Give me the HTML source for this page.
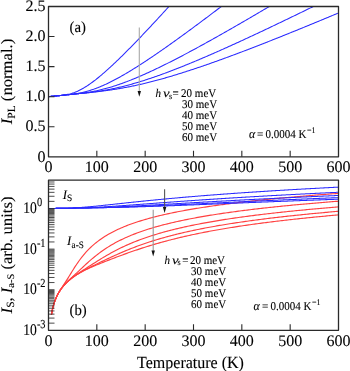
<!DOCTYPE html><html><head><meta charset="utf-8"><style>html,body{margin:0;padding:0;background:#fff;width:350px;height:371px;overflow:hidden}svg{display:block}svg{will-change:transform;filter:blur(0.3px)}text{text-rendering:geometricPrecision}</style></head><body><svg width="350" height="371" viewBox="0 0 350 371">
<rect width="350" height="371" fill="#fff"/>
<path d="M48.50,96.68 L49.47,96.58 L50.43,96.49 L51.40,96.39 L52.37,96.30 L53.33,96.20 L54.30,96.10 L55.27,96.01 L56.23,95.91 L57.20,95.81 L58.17,95.72 L59.13,95.62 L60.10,95.52 L61.07,95.41 L62.03,95.30 L63.00,95.18 L63.97,95.06 L64.93,94.91 L65.90,94.76 L66.87,94.58 L67.83,94.39 L68.80,94.18 L69.77,93.95 L70.73,93.69 L71.70,93.41 L72.67,93.10 L73.63,92.78 L74.60,92.43 L75.57,92.05 L76.53,91.65 L77.50,91.23 L78.47,90.78 L79.43,90.31 L80.40,89.82 L81.37,89.31 L82.33,88.78 L83.30,88.23 L84.27,87.66 L85.23,87.07 L86.20,86.46 L87.17,85.84 L88.13,85.20 L89.10,84.54 L90.07,83.87 L91.03,83.18 L92.00,82.48 L92.97,81.77 L93.93,81.04 L94.90,80.30 L95.87,79.54 L96.83,78.78 L97.80,78.00 L98.77,77.22 L99.73,76.42 L100.70,75.61 L101.67,74.80 L102.63,73.97 L103.60,73.14 L104.57,72.30 L105.53,71.45 L106.50,70.59 L107.47,69.72 L108.43,68.85 L109.40,67.97 L110.37,67.09 L111.33,66.19 L112.30,65.29 L113.27,64.39 L114.23,63.48 L115.20,62.56 L116.17,61.64 L117.13,60.71 L118.10,59.78 L119.07,58.84 L120.03,57.90 L121.00,56.96 L121.97,56.01 L122.93,55.05 L123.90,54.09 L124.87,53.13 L125.83,52.16 L126.80,51.19 L127.77,50.22 L128.73,49.24 L129.70,48.26 L130.67,47.28 L131.63,46.29 L132.60,45.30 L133.57,44.31 L134.53,43.31 L135.50,42.31 L136.47,41.31 L137.43,40.31 L138.40,39.30 L139.37,38.29 L140.33,37.28 L141.30,36.27 L142.27,35.25 L143.23,34.23 L144.20,33.21 L145.17,32.19 L146.13,31.17 L147.10,30.14 L148.07,29.11 L149.03,28.08 L150.00,27.05 L150.97,26.02 L151.93,24.98 L152.90,23.94 L153.87,22.90 L154.83,21.86 L155.80,20.82 L156.77,19.78 L157.73,18.73 L158.70,17.69 L159.67,16.64 L160.63,15.59 L161.60,14.54 L162.57,13.49 L163.53,12.43 L164.50,11.38 L165.47,10.32 L166.43,9.26 L167.40,8.21 L168.37,7.15 L168.96,6.50" fill="none" stroke="#2a2aff" stroke-width="1.05"/>
<path d="M48.50,96.68 L49.47,96.58 L50.43,96.49 L51.40,96.39 L52.37,96.30 L53.33,96.20 L54.30,96.10 L55.27,96.01 L56.23,95.91 L57.20,95.81 L58.17,95.72 L59.13,95.62 L60.10,95.53 L61.07,95.43 L62.03,95.33 L63.00,95.24 L63.97,95.14 L64.93,95.04 L65.90,94.94 L66.87,94.84 L67.83,94.74 L68.80,94.63 L69.77,94.52 L70.73,94.41 L71.70,94.29 L72.67,94.16 L73.63,94.03 L74.60,93.89 L75.57,93.75 L76.53,93.59 L77.50,93.43 L78.47,93.26 L79.43,93.08 L80.40,92.89 L81.37,92.69 L82.33,92.48 L83.30,92.25 L84.27,92.02 L85.23,91.78 L86.20,91.53 L87.17,91.26 L88.13,90.99 L89.10,90.70 L90.07,90.41 L91.03,90.10 L92.00,89.79 L92.97,89.46 L93.93,89.12 L94.90,88.78 L95.87,88.42 L96.83,88.05 L97.80,87.68 L98.77,87.29 L99.73,86.90 L100.70,86.50 L101.67,86.09 L102.63,85.67 L103.60,85.24 L104.57,84.81 L105.53,84.37 L106.50,83.92 L107.47,83.46 L108.43,82.99 L109.40,82.52 L110.37,82.04 L111.33,81.56 L112.30,81.07 L113.27,80.57 L114.23,80.06 L115.20,79.55 L116.17,79.04 L117.13,78.52 L118.10,77.99 L119.07,77.46 L120.03,76.92 L121.00,76.37 L121.97,75.83 L122.93,75.27 L123.90,74.72 L124.87,74.15 L125.83,73.59 L126.80,73.02 L127.77,72.44 L128.73,71.86 L129.70,71.28 L130.67,70.69 L131.63,70.10 L132.60,69.51 L133.57,68.91 L134.53,68.31 L135.50,67.70 L136.47,67.10 L137.43,66.48 L138.40,65.87 L139.37,65.25 L140.33,64.63 L141.30,64.01 L142.27,63.38 L143.23,62.75 L144.20,62.12 L145.17,61.48 L146.13,60.85 L147.10,60.21 L148.07,59.56 L149.03,58.92 L150.00,58.27 L150.97,57.62 L151.93,56.97 L152.90,56.32 L153.87,55.66 L154.83,55.00 L155.80,54.34 L156.77,53.68 L157.73,53.02 L158.70,52.35 L159.67,51.68 L160.63,51.01 L161.60,50.34 L162.57,49.67 L163.53,48.99 L164.50,48.32 L165.47,47.64 L166.43,46.96 L167.40,46.28 L168.37,45.59 L169.33,44.91 L170.30,44.22 L171.27,43.53 L172.23,42.85 L173.20,42.16 L174.17,41.46 L175.13,40.77 L176.10,40.08 L177.07,39.38 L178.03,38.68 L179.00,37.99 L179.97,37.29 L180.93,36.59 L181.90,35.88 L182.87,35.18 L183.83,34.48 L184.80,33.77 L185.77,33.07 L186.73,32.36 L187.70,31.65 L188.67,30.94 L189.63,30.23 L190.60,29.52 L191.57,28.81 L192.53,28.10 L193.50,27.38 L194.47,26.67 L195.43,25.95 L196.40,25.23 L197.37,24.52 L198.33,23.80 L199.30,23.08 L200.27,22.36 L201.23,21.64 L202.20,20.92 L203.17,20.19 L204.13,19.47 L205.10,18.75 L206.07,18.02 L207.03,17.30 L208.00,16.57 L208.97,15.85 L209.93,15.12 L210.90,14.39 L211.87,13.66 L212.83,12.93 L213.80,12.20 L214.77,11.47 L215.73,10.74 L216.70,10.01 L217.67,9.28 L218.63,8.54 L219.60,7.81 L220.57,7.08 L221.32,6.50" fill="none" stroke="#2a2aff" stroke-width="1.05"/>
<path d="M48.50,96.68 L49.47,96.58 L50.43,96.49 L51.40,96.39 L52.37,96.30 L53.33,96.20 L54.30,96.10 L55.27,96.01 L56.23,95.91 L57.20,95.81 L58.17,95.72 L59.13,95.62 L60.10,95.53 L61.07,95.43 L62.03,95.33 L63.00,95.24 L63.97,95.14 L64.93,95.04 L65.90,94.95 L66.87,94.85 L67.83,94.76 L68.80,94.66 L69.77,94.56 L70.73,94.46 L71.70,94.36 L72.67,94.26 L73.63,94.16 L74.60,94.06 L75.57,93.96 L76.53,93.85 L77.50,93.74 L78.47,93.63 L79.43,93.52 L80.40,93.40 L81.37,93.28 L82.33,93.15 L83.30,93.03 L84.27,92.89 L85.23,92.76 L86.20,92.61 L87.17,92.47 L88.13,92.32 L89.10,92.16 L90.07,92.00 L91.03,91.83 L92.00,91.66 L92.97,91.48 L93.93,91.29 L94.90,91.10 L95.87,90.90 L96.83,90.70 L97.80,90.49 L98.77,90.28 L99.73,90.06 L100.70,89.83 L101.67,89.60 L102.63,89.36 L103.60,89.11 L104.57,88.86 L105.53,88.60 L106.50,88.34 L107.47,88.07 L108.43,87.80 L109.40,87.52 L110.37,87.24 L111.33,86.95 L112.30,86.65 L113.27,86.35 L114.23,86.04 L115.20,85.73 L116.17,85.42 L117.13,85.09 L118.10,84.77 L119.07,84.44 L120.03,84.10 L121.00,83.76 L121.97,83.42 L122.93,83.07 L123.90,82.71 L124.87,82.35 L125.83,81.99 L126.80,81.63 L127.77,81.25 L128.73,80.88 L129.70,80.50 L130.67,80.12 L131.63,79.73 L132.60,79.34 L133.57,78.95 L134.53,78.55 L135.50,78.15 L136.47,77.75 L137.43,77.34 L138.40,76.93 L139.37,76.52 L140.33,76.10 L141.30,75.68 L142.27,75.26 L143.23,74.83 L144.20,74.40 L145.17,73.97 L146.13,73.54 L147.10,73.10 L148.07,72.66 L149.03,72.22 L150.00,71.77 L150.97,71.32 L151.93,70.87 L152.90,70.42 L153.87,69.97 L154.83,69.51 L155.80,69.05 L156.77,68.59 L157.73,68.12 L158.70,67.66 L159.67,67.19 L160.63,66.72 L161.60,66.25 L162.57,65.77 L163.53,65.30 L164.50,64.82 L165.47,64.34 L166.43,63.86 L167.40,63.37 L168.37,62.89 L169.33,62.40 L170.30,61.91 L171.27,61.42 L172.23,60.93 L173.20,60.44 L174.17,59.94 L175.13,59.44 L176.10,58.94 L177.07,58.44 L178.03,57.94 L179.00,57.44 L179.97,56.94 L180.93,56.43 L181.90,55.92 L182.87,55.42 L183.83,54.91 L184.80,54.40 L185.77,53.88 L186.73,53.37 L187.70,52.85 L188.67,52.34 L189.63,51.82 L190.60,51.30 L191.57,50.78 L192.53,50.26 L193.50,49.74 L194.47,49.22 L195.43,48.70 L196.40,48.17 L197.37,47.64 L198.33,47.12 L199.30,46.59 L200.27,46.06 L201.23,45.53 L202.20,45.00 L203.17,44.47 L204.13,43.94 L205.10,43.40 L206.07,42.87 L207.03,42.33 L208.00,41.80 L208.97,41.26 L209.93,40.72 L210.90,40.18 L211.87,39.64 L212.83,39.10 L213.80,38.56 L214.77,38.02 L215.73,37.48 L216.70,36.93 L217.67,36.39 L218.63,35.84 L219.60,35.30 L220.57,34.75 L221.53,34.20 L222.50,33.66 L223.47,33.11 L224.43,32.56 L225.40,32.01 L226.37,31.46 L227.33,30.91 L228.30,30.36 L229.27,29.80 L230.23,29.25 L231.20,28.70 L232.17,28.14 L233.13,27.59 L234.10,27.03 L235.07,26.48 L236.03,25.92 L237.00,25.36 L237.97,24.81 L238.93,24.25 L239.90,23.69 L240.87,23.13 L241.83,22.57 L242.80,22.01 L243.77,21.45 L244.73,20.89 L245.70,20.33 L246.67,19.77 L247.63,19.20 L248.60,18.64 L249.57,18.08 L250.53,17.51 L251.50,16.95 L252.47,16.38 L253.43,15.82 L254.40,15.25 L255.37,14.69 L256.33,14.12 L257.30,13.55 L258.27,12.99 L259.23,12.42 L260.20,11.85 L261.17,11.28 L262.13,10.71 L263.10,10.14 L264.07,9.57 L265.03,9.00 L266.00,8.43 L266.97,7.86 L267.93,7.29 L268.90,6.72 L269.27,6.50" fill="none" stroke="#2a2aff" stroke-width="1.05"/>
<path d="M48.50,96.68 L49.47,96.58 L50.43,96.49 L51.40,96.39 L52.37,96.30 L53.33,96.20 L54.30,96.10 L55.27,96.01 L56.23,95.91 L57.20,95.81 L58.17,95.72 L59.13,95.62 L60.10,95.53 L61.07,95.43 L62.03,95.33 L63.00,95.24 L63.97,95.14 L64.93,95.04 L65.90,94.95 L66.87,94.85 L67.83,94.76 L68.80,94.66 L69.77,94.56 L70.73,94.47 L71.70,94.37 L72.67,94.27 L73.63,94.18 L74.60,94.08 L75.57,93.98 L76.53,93.88 L77.50,93.79 L78.47,93.69 L79.43,93.59 L80.40,93.49 L81.37,93.39 L82.33,93.28 L83.30,93.18 L84.27,93.07 L85.23,92.97 L86.20,92.86 L87.17,92.75 L88.13,92.63 L89.10,92.52 L90.07,92.40 L91.03,92.28 L92.00,92.16 L92.97,92.04 L93.93,91.91 L94.90,91.78 L95.87,91.64 L96.83,91.51 L97.80,91.37 L98.77,91.22 L99.73,91.08 L100.70,90.92 L101.67,90.77 L102.63,90.61 L103.60,90.45 L104.57,90.29 L105.53,90.12 L106.50,89.95 L107.47,89.77 L108.43,89.59 L109.40,89.41 L110.37,89.22 L111.33,89.03 L112.30,88.83 L113.27,88.63 L114.23,88.43 L115.20,88.22 L116.17,88.01 L117.13,87.80 L118.10,87.58 L119.07,87.35 L120.03,87.13 L121.00,86.90 L121.97,86.67 L122.93,86.43 L123.90,86.19 L124.87,85.94 L125.83,85.70 L126.80,85.45 L127.77,85.19 L128.73,84.93 L129.70,84.67 L130.67,84.41 L131.63,84.14 L132.60,83.87 L133.57,83.59 L134.53,83.32 L135.50,83.04 L136.47,82.75 L137.43,82.47 L138.40,82.18 L139.37,81.88 L140.33,81.59 L141.30,81.29 L142.27,80.99 L143.23,80.68 L144.20,80.38 L145.17,80.07 L146.13,79.76 L147.10,79.44 L148.07,79.12 L149.03,78.80 L150.00,78.48 L150.97,78.16 L151.93,77.83 L152.90,77.50 L153.87,77.17 L154.83,76.83 L155.80,76.50 L156.77,76.16 L157.73,75.82 L158.70,75.47 L159.67,75.13 L160.63,74.78 L161.60,74.43 L162.57,74.08 L163.53,73.73 L164.50,73.37 L165.47,73.01 L166.43,72.65 L167.40,72.29 L168.37,71.93 L169.33,71.56 L170.30,71.20 L171.27,70.83 L172.23,70.46 L173.20,70.09 L174.17,69.71 L175.13,69.34 L176.10,68.96 L177.07,68.58 L178.03,68.20 L179.00,67.82 L179.97,67.44 L180.93,67.06 L181.90,66.67 L182.87,66.28 L183.83,65.89 L184.80,65.50 L185.77,65.11 L186.73,64.72 L187.70,64.32 L188.67,63.93 L189.63,63.53 L190.60,63.13 L191.57,62.74 L192.53,62.33 L193.50,61.93 L194.47,61.53 L195.43,61.13 L196.40,60.72 L197.37,60.31 L198.33,59.91 L199.30,59.50 L200.27,59.09 L201.23,58.68 L202.20,58.26 L203.17,57.85 L204.13,57.44 L205.10,57.02 L206.07,56.61 L207.03,56.19 L208.00,55.77 L208.97,55.35 L209.93,54.93 L210.90,54.51 L211.87,54.09 L212.83,53.67 L213.80,53.24 L214.77,52.82 L215.73,52.39 L216.70,51.97 L217.67,51.54 L218.63,51.11 L219.60,50.68 L220.57,50.25 L221.53,49.82 L222.50,49.39 L223.47,48.96 L224.43,48.53 L225.40,48.09 L226.37,47.66 L227.33,47.22 L228.30,46.79 L229.27,46.35 L230.23,45.92 L231.20,45.48 L232.17,45.04 L233.13,44.60 L234.10,44.16 L235.07,43.72 L236.03,43.28 L237.00,42.84 L237.97,42.40 L238.93,41.95 L239.90,41.51 L240.87,41.07 L241.83,40.62 L242.80,40.18 L243.77,39.73 L244.73,39.28 L245.70,38.84 L246.67,38.39 L247.63,37.94 L248.60,37.49 L249.57,37.04 L250.53,36.59 L251.50,36.14 L252.47,35.69 L253.43,35.24 L254.40,34.79 L255.37,34.34 L256.33,33.88 L257.30,33.43 L258.27,32.98 L259.23,32.52 L260.20,32.07 L261.17,31.61 L262.13,31.16 L263.10,30.70 L264.07,30.24 L265.03,29.79 L266.00,29.33 L266.97,28.87 L267.93,28.41 L268.90,27.95 L269.87,27.49 L270.83,27.03 L271.80,26.57 L272.77,26.11 L273.73,25.65 L274.70,25.19 L275.67,24.73 L276.63,24.27 L277.60,23.81 L278.57,23.34 L279.53,22.88 L280.50,22.42 L281.47,21.95 L282.43,21.49 L283.40,21.02 L284.37,20.56 L285.33,20.09 L286.30,19.63 L287.27,19.16 L288.23,18.70 L289.20,18.23 L290.17,17.76 L291.13,17.30 L292.10,16.83 L293.07,16.36 L294.03,15.89 L295.00,15.42 L295.97,14.95 L296.93,14.48 L297.90,14.02 L298.87,13.55 L299.83,13.08 L300.80,12.61 L301.77,12.13 L302.73,11.66 L303.70,11.19 L304.67,10.72 L305.63,10.25 L306.60,9.78 L307.57,9.30 L308.53,8.83 L309.50,8.36 L310.47,7.89 L311.43,7.41 L312.40,6.94 L313.30,6.50" fill="none" stroke="#2a2aff" stroke-width="1.05"/>
<path d="M48.50,96.68 L49.47,96.58 L50.43,96.49 L51.40,96.39 L52.37,96.30 L53.33,96.20 L54.30,96.10 L55.27,96.01 L56.23,95.91 L57.20,95.81 L58.17,95.72 L59.13,95.62 L60.10,95.53 L61.07,95.43 L62.03,95.33 L63.00,95.24 L63.97,95.14 L64.93,95.04 L65.90,94.95 L66.87,94.85 L67.83,94.76 L68.80,94.66 L69.77,94.56 L70.73,94.47 L71.70,94.37 L72.67,94.28 L73.63,94.18 L74.60,94.08 L75.57,93.99 L76.53,93.89 L77.50,93.79 L78.47,93.70 L79.43,93.60 L80.40,93.50 L81.37,93.41 L82.33,93.31 L83.30,93.21 L84.27,93.11 L85.23,93.01 L86.20,92.91 L87.17,92.81 L88.13,92.71 L89.10,92.61 L90.07,92.51 L91.03,92.40 L92.00,92.30 L92.97,92.19 L93.93,92.09 L94.90,91.98 L95.87,91.87 L96.83,91.76 L97.80,91.64 L98.77,91.53 L99.73,91.41 L100.70,91.29 L101.67,91.17 L102.63,91.05 L103.60,90.93 L104.57,90.80 L105.53,90.67 L106.50,90.54 L107.47,90.41 L108.43,90.28 L109.40,90.14 L110.37,90.00 L111.33,89.86 L112.30,89.71 L113.27,89.57 L114.23,89.42 L115.20,89.26 L116.17,89.11 L117.13,88.95 L118.10,88.79 L119.07,88.63 L120.03,88.46 L121.00,88.30 L121.97,88.12 L122.93,87.95 L123.90,87.78 L124.87,87.60 L125.83,87.42 L126.80,87.23 L127.77,87.04 L128.73,86.86 L129.70,86.66 L130.67,86.47 L131.63,86.27 L132.60,86.07 L133.57,85.87 L134.53,85.66 L135.50,85.46 L136.47,85.25 L137.43,85.03 L138.40,84.82 L139.37,84.60 L140.33,84.38 L141.30,84.16 L142.27,83.93 L143.23,83.71 L144.20,83.48 L145.17,83.24 L146.13,83.01 L147.10,82.77 L148.07,82.53 L149.03,82.29 L150.00,82.05 L150.97,81.80 L151.93,81.56 L152.90,81.31 L153.87,81.05 L154.83,80.80 L155.80,80.54 L156.77,80.28 L157.73,80.02 L158.70,79.76 L159.67,79.50 L160.63,79.23 L161.60,78.96 L162.57,78.69 L163.53,78.42 L164.50,78.14 L165.47,77.87 L166.43,77.59 L167.40,77.31 L168.37,77.03 L169.33,76.75 L170.30,76.46 L171.27,76.17 L172.23,75.89 L173.20,75.60 L174.17,75.30 L175.13,75.01 L176.10,74.72 L177.07,74.42 L178.03,74.12 L179.00,73.82 L179.97,73.52 L180.93,73.22 L181.90,72.92 L182.87,72.61 L183.83,72.30 L184.80,72.00 L185.77,71.69 L186.73,71.37 L187.70,71.06 L188.67,70.75 L189.63,70.43 L190.60,70.12 L191.57,69.80 L192.53,69.48 L193.50,69.16 L194.47,68.84 L195.43,68.52 L196.40,68.19 L197.37,67.87 L198.33,67.54 L199.30,67.21 L200.27,66.89 L201.23,66.56 L202.20,66.22 L203.17,65.89 L204.13,65.56 L205.10,65.23 L206.07,64.89 L207.03,64.55 L208.00,64.22 L208.97,63.88 L209.93,63.54 L210.90,63.20 L211.87,62.86 L212.83,62.52 L213.80,62.17 L214.77,61.83 L215.73,61.49 L216.70,61.14 L217.67,60.79 L218.63,60.45 L219.60,60.10 L220.57,59.75 L221.53,59.40 L222.50,59.05 L223.47,58.69 L224.43,58.34 L225.40,57.99 L226.37,57.63 L227.33,57.28 L228.30,56.92 L229.27,56.57 L230.23,56.21 L231.20,55.85 L232.17,55.49 L233.13,55.13 L234.10,54.77 L235.07,54.41 L236.03,54.05 L237.00,53.69 L237.97,53.32 L238.93,52.96 L239.90,52.60 L240.87,52.23 L241.83,51.87 L242.80,51.50 L243.77,51.13 L244.73,50.76 L245.70,50.40 L246.67,50.03 L247.63,49.66 L248.60,49.29 L249.57,48.92 L250.53,48.54 L251.50,48.17 L252.47,47.80 L253.43,47.43 L254.40,47.05 L255.37,46.68 L256.33,46.30 L257.30,45.93 L258.27,45.55 L259.23,45.18 L260.20,44.80 L261.17,44.42 L262.13,44.04 L263.10,43.67 L264.07,43.29 L265.03,42.91 L266.00,42.53 L266.97,42.15 L267.93,41.77 L268.90,41.38 L269.87,41.00 L270.83,40.62 L271.80,40.24 L272.77,39.85 L273.73,39.47 L274.70,39.09 L275.67,38.70 L276.63,38.32 L277.60,37.93 L278.57,37.55 L279.53,37.16 L280.50,36.77 L281.47,36.39 L282.43,36.00 L283.40,35.61 L284.37,35.22 L285.33,34.83 L286.30,34.44 L287.27,34.05 L288.23,33.66 L289.20,33.27 L290.17,32.88 L291.13,32.49 L292.10,32.10 L293.07,31.71 L294.03,31.32 L295.00,30.93 L295.97,30.53 L296.93,30.14 L297.90,29.75 L298.87,29.35 L299.83,28.96 L300.80,28.56 L301.77,28.17 L302.73,27.77 L303.70,27.38 L304.67,26.98 L305.63,26.59 L306.60,26.19 L307.57,25.79 L308.53,25.40 L309.50,25.00 L310.47,24.60 L311.43,24.20 L312.40,23.81 L313.37,23.41 L314.33,23.01 L315.30,22.61 L316.27,22.21 L317.23,21.81 L318.20,21.41 L319.17,21.01 L320.13,20.61 L321.10,20.21 L322.07,19.81 L323.03,19.41 L324.00,19.01 L324.97,18.60 L325.93,18.20 L326.90,17.80 L327.87,17.40 L328.83,16.99 L329.80,16.59 L330.77,16.19 L331.73,15.78 L332.70,15.38 L333.67,14.98 L334.63,14.57 L335.60,14.17 L336.57,13.76 L337.53,13.36 L338.50,12.95" fill="none" stroke="#2a2aff" stroke-width="1.05"/>
<path d="M51.40,314.86 L51.88,312.15 L52.37,309.79 L52.85,307.71 L53.33,305.86 L53.82,304.18 L54.30,302.64 L54.78,301.23 L55.27,299.92 L55.75,298.71 L56.23,297.57 L56.72,296.50 L57.20,295.49 L57.68,294.53 L58.17,293.61 L58.65,292.74 L59.13,291.90 L59.62,291.09 L60.10,290.30 L60.58,289.54 L61.07,288.78 L61.55,288.04 L62.03,287.31 L62.52,286.58 L63.00,285.85 L63.48,285.13 L63.97,284.40 L64.45,283.66 L64.93,282.92 L65.42,282.18 L65.90,281.43 L66.38,280.67 L66.87,279.90 L67.35,279.13 L67.83,278.35 L68.32,277.57 L68.80,276.79 L69.28,276.00 L69.77,275.21 L70.25,274.42 L70.73,273.63 L71.22,272.84 L71.70,272.05 L72.18,271.27 L72.67,270.49 L73.15,269.71 L73.63,268.94 L74.12,268.18 L74.60,267.42 L75.08,266.67 L75.57,265.93 L76.05,265.19 L76.53,264.47 L77.02,263.75 L77.50,263.05 L78.95,260.98 L80.40,259.01 L81.85,257.12 L83.30,255.32 L84.75,253.61 L86.20,251.97 L87.65,250.42 L89.10,248.93 L90.55,247.52 L92.00,246.17 L93.45,244.88 L94.90,243.65 L96.35,242.47 L97.80,241.34 L99.25,240.25 L100.70,239.21 L102.15,238.21 L103.60,237.25 L105.05,236.33 L106.50,235.44 L107.95,234.58 L109.40,233.75 L110.85,232.96 L112.30,232.18 L113.75,231.43 L115.20,230.71 L116.65,230.01 L118.10,229.33 L119.55,228.67 L121.00,228.03 L122.45,227.41 L123.90,226.80 L125.35,226.21 L126.80,225.64 L128.25,225.08 L129.70,224.54 L131.15,224.01 L132.60,223.49 L134.05,222.99 L135.50,222.50 L136.95,222.01 L138.40,221.55 L139.85,221.09 L141.30,220.64 L142.75,220.20 L144.20,219.77 L145.65,219.35 L147.10,218.93 L148.55,218.53 L150.00,218.13 L151.45,217.74 L152.90,217.36 L154.35,216.99 L155.80,216.62 L157.25,216.26 L158.70,215.91 L160.15,215.56 L161.60,215.22 L163.05,214.88 L164.50,214.55 L165.95,214.23 L167.40,213.91 L168.85,213.60 L170.30,213.29 L171.75,212.98 L173.20,212.68 L174.65,212.39 L176.10,212.10 L177.55,211.81 L179.00,211.53 L180.45,211.25 L181.90,210.98 L183.35,210.71 L184.80,210.44 L186.25,210.18 L187.70,209.92 L189.15,209.67 L190.60,209.41 L192.05,209.17 L193.50,208.92 L194.95,208.68 L196.40,208.44 L197.85,208.20 L199.30,207.97 L200.75,207.74 L202.20,207.51 L203.65,207.29 L205.10,207.06 L206.55,206.85 L208.00,206.63 L209.45,206.41 L210.90,206.20 L212.35,205.99 L213.80,205.78 L215.25,205.58 L216.70,205.38 L218.15,205.18 L219.60,204.98 L221.05,204.78 L222.50,204.59 L223.95,204.39 L225.40,204.20 L226.85,204.02 L228.30,203.83 L229.75,203.64 L231.20,203.46 L232.65,203.28 L234.10,203.10 L235.55,202.92 L237.00,202.75 L238.45,202.57 L239.90,202.40 L241.35,202.23 L242.80,202.06 L244.25,201.89 L245.70,201.73 L247.15,201.56 L248.60,201.40 L250.05,201.24 L251.50,201.08 L252.95,200.92 L254.40,200.76 L255.85,200.60 L257.30,200.45 L258.75,200.30 L260.20,200.14 L261.65,199.99 L263.10,199.84 L264.55,199.69 L266.00,199.55 L267.45,199.40 L268.90,199.25 L270.35,199.11 L271.80,198.97 L273.25,198.83 L274.70,198.68 L276.15,198.55 L277.60,198.41 L279.05,198.27 L280.50,198.13 L281.95,198.00 L283.40,197.86 L284.85,197.73 L286.30,197.60 L287.75,197.47 L289.20,197.34 L290.65,197.21 L292.10,197.08 L293.55,196.95 L295.00,196.82 L296.45,196.70 L297.90,196.57 L299.35,196.45 L300.80,196.32 L302.25,196.20 L303.70,196.08 L305.15,195.96 L306.60,195.84 L308.05,195.72 L309.50,195.60 L310.95,195.48 L312.40,195.37 L313.85,195.25 L315.30,195.13 L316.75,195.02 L318.20,194.90 L319.65,194.79 L321.10,194.68 L322.55,194.57 L324.00,194.46 L325.45,194.35 L326.90,194.24 L328.35,194.13 L329.80,194.02 L331.25,193.91 L332.70,193.80 L334.15,193.70 L335.60,193.59 L337.05,193.48 L338.50,193.38" fill="none" stroke="#ff4040" stroke-width="1.15"/>
<path d="M51.40,314.86 L51.88,312.15 L52.37,309.79 L52.85,307.71 L53.33,305.86 L53.82,304.18 L54.30,302.64 L54.78,301.23 L55.27,299.92 L55.75,298.71 L56.23,297.57 L56.72,296.50 L57.20,295.49 L57.68,294.54 L58.17,293.63 L58.65,292.77 L59.13,291.95 L59.62,291.17 L60.10,290.42 L60.58,289.70 L61.07,289.01 L61.55,288.34 L62.03,287.70 L62.52,287.07 L63.00,286.47 L63.48,285.89 L63.97,285.32 L64.45,284.77 L64.93,284.23 L65.42,283.71 L65.90,283.19 L66.38,282.69 L66.87,282.20 L67.35,281.71 L67.83,281.23 L68.32,280.76 L68.80,280.29 L69.28,279.83 L69.77,279.37 L70.25,278.91 L70.73,278.46 L71.22,278.01 L71.70,277.56 L72.18,277.11 L72.67,276.66 L73.15,276.21 L73.63,275.77 L74.12,275.32 L74.60,274.87 L75.08,274.42 L75.57,273.97 L76.05,273.52 L76.53,273.07 L77.02,272.62 L77.50,272.17 L78.95,270.81 L80.40,269.44 L81.85,268.08 L83.30,266.72 L84.75,265.37 L86.20,264.04 L87.65,262.72 L89.10,261.43 L90.55,260.15 L92.00,258.91 L93.45,257.69 L94.90,256.50 L96.35,255.34 L97.80,254.21 L99.25,253.10 L100.70,252.03 L102.15,250.99 L103.60,249.98 L105.05,249.00 L106.50,248.05 L107.95,247.12 L109.40,246.22 L110.85,245.34 L112.30,244.49 L113.75,243.67 L115.20,242.86 L116.65,242.08 L118.10,241.32 L119.55,240.58 L121.00,239.86 L122.45,239.16 L123.90,238.48 L125.35,237.81 L126.80,237.16 L128.25,236.53 L129.70,235.91 L131.15,235.31 L132.60,234.73 L134.05,234.15 L135.50,233.59 L136.95,233.04 L138.40,232.51 L139.85,231.99 L141.30,231.47 L142.75,230.97 L144.20,230.48 L145.65,230.00 L147.10,229.53 L148.55,229.07 L150.00,228.62 L151.45,228.18 L152.90,227.75 L154.35,227.32 L155.80,226.91 L157.25,226.50 L158.70,226.09 L160.15,225.70 L161.60,225.31 L163.05,224.93 L164.50,224.56 L165.95,224.19 L167.40,223.83 L168.85,223.47 L170.30,223.13 L171.75,222.78 L173.20,222.44 L174.65,222.11 L176.10,221.78 L177.55,221.46 L179.00,221.14 L180.45,220.83 L181.90,220.52 L183.35,220.22 L184.80,219.92 L186.25,219.63 L187.70,219.34 L189.15,219.05 L190.60,218.77 L192.05,218.49 L193.50,218.22 L194.95,217.95 L196.40,217.68 L197.85,217.41 L199.30,217.15 L200.75,216.90 L202.20,216.64 L203.65,216.39 L205.10,216.15 L206.55,215.90 L208.00,215.66 L209.45,215.42 L210.90,215.19 L212.35,214.95 L213.80,214.72 L215.25,214.50 L216.70,214.27 L218.15,214.05 L219.60,213.83 L221.05,213.61 L222.50,213.40 L223.95,213.19 L225.40,212.98 L226.85,212.77 L228.30,212.56 L229.75,212.36 L231.20,212.16 L232.65,211.96 L234.10,211.76 L235.55,211.57 L237.00,211.37 L238.45,211.18 L239.90,210.99 L241.35,210.80 L242.80,210.62 L244.25,210.43 L245.70,210.25 L247.15,210.07 L248.60,209.89 L250.05,209.72 L251.50,209.54 L252.95,209.37 L254.40,209.19 L255.85,209.02 L257.30,208.85 L258.75,208.69 L260.20,208.52 L261.65,208.35 L263.10,208.19 L264.55,208.03 L266.00,207.87 L267.45,207.71 L268.90,207.55 L270.35,207.40 L271.80,207.24 L273.25,207.09 L274.70,206.93 L276.15,206.78 L277.60,206.63 L279.05,206.48 L280.50,206.33 L281.95,206.19 L283.40,206.04 L284.85,205.90 L286.30,205.75 L287.75,205.61 L289.20,205.47 L290.65,205.33 L292.10,205.19 L293.55,205.05 L295.00,204.92 L296.45,204.78 L297.90,204.64 L299.35,204.51 L300.80,204.38 L302.25,204.25 L303.70,204.11 L305.15,203.98 L306.60,203.85 L308.05,203.73 L309.50,203.60 L310.95,203.47 L312.40,203.35 L313.85,203.22 L315.30,203.10 L316.75,202.97 L318.20,202.85 L319.65,202.73 L321.10,202.61 L322.55,202.49 L324.00,202.37 L325.45,202.25 L326.90,202.13 L328.35,202.01 L329.80,201.90 L331.25,201.78 L332.70,201.67 L334.15,201.55 L335.60,201.44 L337.05,201.33 L338.50,201.22" fill="none" stroke="#ff4040" stroke-width="1.15"/>
<path d="M51.40,314.86 L51.88,312.15 L52.37,309.79 L52.85,307.71 L53.33,305.86 L53.82,304.18 L54.30,302.64 L54.78,301.23 L55.27,299.92 L55.75,298.71 L56.23,297.57 L56.72,296.50 L57.20,295.49 L57.68,294.54 L58.17,293.63 L58.65,292.77 L59.13,291.95 L59.62,291.17 L60.10,290.42 L60.58,289.70 L61.07,289.01 L61.55,288.34 L62.03,287.70 L62.52,287.08 L63.00,286.48 L63.48,285.91 L63.97,285.35 L64.45,284.80 L64.93,284.28 L65.42,283.77 L65.90,283.27 L66.38,282.78 L66.87,282.31 L67.35,281.85 L67.83,281.40 L68.32,280.96 L68.80,280.54 L69.28,280.12 L69.77,279.71 L70.25,279.30 L70.73,278.91 L71.22,278.52 L71.70,278.14 L72.18,277.77 L72.67,277.40 L73.15,277.03 L73.63,276.67 L74.12,276.32 L74.60,275.97 L75.08,275.63 L75.57,275.28 L76.05,274.94 L76.53,274.61 L77.02,274.28 L77.50,273.95 L78.95,272.97 L80.40,272.00 L81.85,271.05 L83.30,270.10 L84.75,269.16 L86.20,268.22 L87.65,267.28 L89.10,266.35 L90.55,265.42 L92.00,264.48 L93.45,263.56 L94.90,262.64 L96.35,261.72 L97.80,260.81 L99.25,259.91 L100.70,259.02 L102.15,258.13 L103.60,257.26 L105.05,256.40 L106.50,255.56 L107.95,254.72 L109.40,253.90 L110.85,253.09 L112.30,252.30 L113.75,251.52 L115.20,250.75 L116.65,250.00 L118.10,249.27 L119.55,248.54 L121.00,247.83 L122.45,247.14 L123.90,246.46 L125.35,245.79 L126.80,245.14 L128.25,244.50 L129.70,243.87 L131.15,243.25 L132.60,242.65 L134.05,242.06 L135.50,241.48 L136.95,240.91 L138.40,240.35 L139.85,239.80 L141.30,239.27 L142.75,238.74 L144.20,238.23 L145.65,237.72 L147.10,237.22 L148.55,236.74 L150.00,236.26 L151.45,235.79 L152.90,235.33 L154.35,234.87 L155.80,234.43 L157.25,233.99 L158.70,233.56 L160.15,233.14 L161.60,232.73 L163.05,232.32 L164.50,231.92 L165.95,231.52 L167.40,231.14 L168.85,230.75 L170.30,230.38 L171.75,230.01 L173.20,229.64 L174.65,229.29 L176.10,228.93 L177.55,228.59 L179.00,228.24 L180.45,227.91 L181.90,227.58 L183.35,227.25 L184.80,226.93 L186.25,226.61 L187.70,226.30 L189.15,225.99 L190.60,225.68 L192.05,225.38 L193.50,225.09 L194.95,224.79 L196.40,224.51 L197.85,224.22 L199.30,223.94 L200.75,223.66 L202.20,223.39 L203.65,223.12 L205.10,222.85 L206.55,222.59 L208.00,222.33 L209.45,222.07 L210.90,221.82 L212.35,221.57 L213.80,221.32 L215.25,221.07 L216.70,220.83 L218.15,220.59 L219.60,220.36 L221.05,220.12 L222.50,219.89 L223.95,219.66 L225.40,219.44 L226.85,219.21 L228.30,218.99 L229.75,218.77 L231.20,218.55 L232.65,218.34 L234.10,218.13 L235.55,217.92 L237.00,217.71 L238.45,217.51 L239.90,217.30 L241.35,217.10 L242.80,216.90 L244.25,216.70 L245.70,216.51 L247.15,216.31 L248.60,216.12 L250.05,215.93 L251.50,215.74 L252.95,215.56 L254.40,215.37 L255.85,215.19 L257.30,215.01 L258.75,214.83 L260.20,214.65 L261.65,214.47 L263.10,214.30 L264.55,214.13 L266.00,213.95 L267.45,213.78 L268.90,213.62 L270.35,213.45 L271.80,213.28 L273.25,213.12 L274.70,212.95 L276.15,212.79 L277.60,212.63 L279.05,212.47 L280.50,212.32 L281.95,212.16 L283.40,212.00 L284.85,211.85 L286.30,211.70 L287.75,211.54 L289.20,211.39 L290.65,211.24 L292.10,211.10 L293.55,210.95 L295.00,210.80 L296.45,210.66 L297.90,210.52 L299.35,210.37 L300.80,210.23 L302.25,210.09 L303.70,209.95 L305.15,209.81 L306.60,209.67 L308.05,209.54 L309.50,209.40 L310.95,209.27 L312.40,209.13 L313.85,209.00 L315.30,208.87 L316.75,208.74 L318.20,208.61 L319.65,208.48 L321.10,208.35 L322.55,208.22 L324.00,208.10 L325.45,207.97 L326.90,207.85 L328.35,207.72 L329.80,207.60 L331.25,207.48 L332.70,207.36 L334.15,207.23 L335.60,207.11 L337.05,207.00 L338.50,206.88" fill="none" stroke="#ff4040" stroke-width="1.15"/>
<path d="M51.40,314.86 L51.88,312.15 L52.37,309.79 L52.85,307.71 L53.33,305.86 L53.82,304.18 L54.30,302.64 L54.78,301.23 L55.27,299.92 L55.75,298.71 L56.23,297.57 L56.72,296.50 L57.20,295.49 L57.68,294.54 L58.17,293.63 L58.65,292.77 L59.13,291.95 L59.62,291.17 L60.10,290.42 L60.58,289.70 L61.07,289.01 L61.55,288.34 L62.03,287.70 L62.52,287.08 L63.00,286.49 L63.48,285.91 L63.97,285.35 L64.45,284.80 L64.93,284.28 L65.42,283.77 L65.90,283.27 L66.38,282.79 L66.87,282.32 L67.35,281.86 L67.83,281.41 L68.32,280.98 L68.80,280.55 L69.28,280.14 L69.77,279.73 L70.25,279.33 L70.73,278.95 L71.22,278.57 L71.70,278.19 L72.18,277.83 L72.67,277.47 L73.15,277.12 L73.63,276.77 L74.12,276.44 L74.60,276.10 L75.08,275.78 L75.57,275.46 L76.05,275.14 L76.53,274.83 L77.02,274.52 L77.50,274.22 L78.95,273.33 L80.40,272.48 L81.85,271.66 L83.30,270.86 L84.75,270.07 L86.20,269.31 L87.65,268.56 L89.10,267.81 L90.55,267.08 L92.00,266.35 L93.45,265.63 L94.90,264.92 L96.35,264.21 L97.80,263.50 L99.25,262.79 L100.70,262.09 L102.15,261.39 L103.60,260.70 L105.05,260.01 L106.50,259.32 L107.95,258.64 L109.40,257.96 L110.85,257.29 L112.30,256.62 L113.75,255.96 L115.20,255.30 L116.65,254.65 L118.10,254.01 L119.55,253.37 L121.00,252.74 L122.45,252.12 L123.90,251.50 L125.35,250.90 L126.80,250.30 L128.25,249.71 L129.70,249.12 L131.15,248.55 L132.60,247.98 L134.05,247.42 L135.50,246.87 L136.95,246.33 L138.40,245.79 L139.85,245.27 L141.30,244.75 L142.75,244.24 L144.20,243.73 L145.65,243.24 L147.10,242.75 L148.55,242.27 L150.00,241.79 L151.45,241.33 L152.90,240.87 L154.35,240.41 L155.80,239.97 L157.25,239.53 L158.70,239.10 L160.15,238.67 L161.60,238.25 L163.05,237.84 L164.50,237.43 L165.95,237.03 L167.40,236.63 L168.85,236.24 L170.30,235.86 L171.75,235.48 L173.20,235.11 L174.65,234.74 L176.10,234.37 L177.55,234.02 L179.00,233.66 L180.45,233.32 L181.90,232.97 L183.35,232.63 L184.80,232.30 L186.25,231.97 L187.70,231.65 L189.15,231.33 L190.60,231.01 L192.05,230.70 L193.50,230.39 L194.95,230.08 L196.40,229.78 L197.85,229.49 L199.30,229.19 L200.75,228.90 L202.20,228.62 L203.65,228.34 L205.10,228.06 L206.55,227.78 L208.00,227.51 L209.45,227.24 L210.90,226.98 L212.35,226.71 L213.80,226.45 L215.25,226.20 L216.70,225.94 L218.15,225.69 L219.60,225.44 L221.05,225.20 L222.50,224.96 L223.95,224.71 L225.40,224.48 L226.85,224.24 L228.30,224.01 L229.75,223.78 L231.20,223.55 L232.65,223.33 L234.10,223.11 L235.55,222.88 L237.00,222.67 L238.45,222.45 L239.90,222.24 L241.35,222.02 L242.80,221.82 L244.25,221.61 L245.70,221.40 L247.15,221.20 L248.60,221.00 L250.05,220.80 L251.50,220.60 L252.95,220.40 L254.40,220.21 L255.85,220.02 L257.30,219.83 L258.75,219.64 L260.20,219.45 L261.65,219.27 L263.10,219.08 L264.55,218.90 L266.00,218.72 L267.45,218.54 L268.90,218.36 L270.35,218.19 L271.80,218.01 L273.25,217.84 L274.70,217.67 L276.15,217.50 L277.60,217.33 L279.05,217.16 L280.50,217.00 L281.95,216.83 L283.40,216.67 L284.85,216.51 L286.30,216.35 L287.75,216.19 L289.20,216.03 L290.65,215.87 L292.10,215.72 L293.55,215.56 L295.00,215.41 L296.45,215.26 L297.90,215.11 L299.35,214.96 L300.80,214.81 L302.25,214.66 L303.70,214.51 L305.15,214.37 L306.60,214.23 L308.05,214.08 L309.50,213.94 L310.95,213.80 L312.40,213.66 L313.85,213.52 L315.30,213.38 L316.75,213.24 L318.20,213.11 L319.65,212.97 L321.10,212.84 L322.55,212.70 L324.00,212.57 L325.45,212.44 L326.90,212.31 L328.35,212.18 L329.80,212.05 L331.25,211.92 L332.70,211.80 L334.15,211.67 L335.60,211.54 L337.05,211.42 L338.50,211.29" fill="none" stroke="#ff4040" stroke-width="1.15"/>
<path d="M51.40,314.86 L51.88,312.15 L52.37,309.79 L52.85,307.71 L53.33,305.86 L53.82,304.18 L54.30,302.64 L54.78,301.23 L55.27,299.92 L55.75,298.71 L56.23,297.57 L56.72,296.50 L57.20,295.49 L57.68,294.54 L58.17,293.63 L58.65,292.77 L59.13,291.95 L59.62,291.17 L60.10,290.42 L60.58,289.70 L61.07,289.01 L61.55,288.34 L62.03,287.70 L62.52,287.08 L63.00,286.49 L63.48,285.91 L63.97,285.35 L64.45,284.80 L64.93,284.28 L65.42,283.77 L65.90,283.27 L66.38,282.79 L66.87,282.32 L67.35,281.86 L67.83,281.41 L68.32,280.98 L68.80,280.55 L69.28,280.14 L69.77,279.73 L70.25,279.34 L70.73,278.95 L71.22,278.57 L71.70,278.20 L72.18,277.83 L72.67,277.48 L73.15,277.13 L73.63,276.79 L74.12,276.45 L74.60,276.12 L75.08,275.80 L75.57,275.48 L76.05,275.16 L76.53,274.86 L77.02,274.55 L77.50,274.26 L78.95,273.39 L80.40,272.57 L81.85,271.77 L83.30,271.01 L84.75,270.27 L86.20,269.56 L87.65,268.87 L89.10,268.20 L90.55,267.54 L92.00,266.90 L93.45,266.27 L94.90,265.65 L96.35,265.04 L97.80,264.44 L99.25,263.85 L100.70,263.26 L102.15,262.68 L103.60,262.10 L105.05,261.53 L106.50,260.96 L107.95,260.40 L109.40,259.84 L110.85,259.28 L112.30,258.72 L113.75,258.17 L115.20,257.62 L116.65,257.07 L118.10,256.53 L119.55,255.99 L121.00,255.46 L122.45,254.92 L123.90,254.40 L125.35,253.87 L126.80,253.35 L128.25,252.83 L129.70,252.32 L131.15,251.81 L132.60,251.31 L134.05,250.81 L135.50,250.31 L136.95,249.83 L138.40,249.34 L139.85,248.86 L141.30,248.38 L142.75,247.91 L144.20,247.45 L145.65,246.99 L147.10,246.53 L148.55,246.08 L150.00,245.64 L151.45,245.20 L152.90,244.77 L154.35,244.34 L155.80,243.91 L157.25,243.49 L158.70,243.08 L160.15,242.67 L161.60,242.26 L163.05,241.86 L164.50,241.47 L165.95,241.08 L167.40,240.69 L168.85,240.31 L170.30,239.94 L171.75,239.56 L173.20,239.20 L174.65,238.84 L176.10,238.48 L177.55,238.12 L179.00,237.77 L180.45,237.43 L181.90,237.09 L183.35,236.75 L184.80,236.42 L186.25,236.09 L187.70,235.76 L189.15,235.44 L190.60,235.12 L192.05,234.81 L193.50,234.50 L194.95,234.19 L196.40,233.89 L197.85,233.59 L199.30,233.30 L200.75,233.00 L202.20,232.71 L203.65,232.43 L205.10,232.14 L206.55,231.86 L208.00,231.59 L209.45,231.31 L210.90,231.04 L212.35,230.78 L213.80,230.51 L215.25,230.25 L216.70,229.99 L218.15,229.73 L219.60,229.48 L221.05,229.23 L222.50,228.98 L223.95,228.74 L225.40,228.49 L226.85,228.25 L228.30,228.01 L229.75,227.78 L231.20,227.54 L232.65,227.31 L234.10,227.09 L235.55,226.86 L237.00,226.63 L238.45,226.41 L239.90,226.19 L241.35,225.97 L242.80,225.76 L244.25,225.54 L245.70,225.33 L247.15,225.12 L248.60,224.92 L250.05,224.71 L251.50,224.51 L252.95,224.30 L254.40,224.10 L255.85,223.91 L257.30,223.71 L258.75,223.51 L260.20,223.32 L261.65,223.13 L263.10,222.94 L264.55,222.75 L266.00,222.57 L267.45,222.38 L268.90,222.20 L270.35,222.02 L271.80,221.83 L273.25,221.66 L274.70,221.48 L276.15,221.30 L277.60,221.13 L279.05,220.96 L280.50,220.78 L281.95,220.61 L283.40,220.45 L284.85,220.28 L286.30,220.11 L287.75,219.95 L289.20,219.78 L290.65,219.62 L292.10,219.46 L293.55,219.30 L295.00,219.14 L296.45,218.98 L297.90,218.83 L299.35,218.67 L300.80,218.52 L302.25,218.37 L303.70,218.22 L305.15,218.07 L306.60,217.92 L308.05,217.77 L309.50,217.62 L310.95,217.47 L312.40,217.33 L313.85,217.19 L315.30,217.04 L316.75,216.90 L318.20,216.76 L319.65,216.62 L321.10,216.48 L322.55,216.34 L324.00,216.20 L325.45,216.07 L326.90,215.93 L328.35,215.80 L329.80,215.66 L331.25,215.53 L332.70,215.40 L334.15,215.27 L335.60,215.14 L337.05,215.01 L338.50,214.88" fill="none" stroke="#ff4040" stroke-width="1.15"/>
<path d="M48.50,208.50 L49.47,208.49 L50.43,208.47 L51.40,208.46 L52.37,208.44 L53.33,208.43 L54.30,208.42 L55.27,208.40 L56.23,208.39 L57.20,208.37 L58.17,208.36 L59.13,208.35 L60.10,208.33 L61.07,208.32 L62.03,208.30 L63.00,208.28 L63.97,208.26 L64.93,208.24 L65.90,208.22 L66.87,208.20 L67.83,208.17 L68.80,208.14 L69.77,208.10 L70.73,208.07 L71.70,208.03 L72.67,207.98 L73.63,207.94 L74.60,207.89 L75.57,207.83 L76.53,207.78 L77.50,207.72 L78.47,207.66 L79.43,207.59 L80.40,207.52 L81.37,207.45 L82.33,207.38 L83.30,207.30 L84.27,207.22 L85.23,207.14 L86.20,207.06 L87.17,206.98 L88.13,206.89 L89.10,206.80 L90.07,206.71 L91.03,206.62 L92.00,206.53 L92.97,206.44 L93.93,206.34 L94.90,206.25 L95.87,206.15 L96.83,206.05 L97.80,205.95 L98.77,205.85 L99.73,205.75 L100.70,205.65 L101.67,205.55 L102.63,205.45 L103.60,205.35 L104.57,205.24 L105.53,205.14 L106.50,205.04 L107.47,204.93 L108.43,204.83 L109.40,204.72 L110.37,204.62 L111.33,204.52 L112.30,204.41 L113.27,204.31 L114.23,204.20 L115.20,204.10 L116.17,203.99 L117.13,203.89 L118.10,203.78 L119.07,203.68 L120.03,203.57 L121.00,203.47 L121.97,203.36 L122.93,203.26 L123.90,203.15 L124.87,203.05 L125.83,202.95 L126.80,202.84 L127.77,202.74 L128.73,202.64 L129.70,202.53 L130.67,202.43 L131.63,202.33 L132.60,202.23 L133.57,202.12 L134.53,202.02 L135.50,201.92 L136.47,201.82 L137.43,201.72 L138.40,201.62 L139.37,201.52 L140.33,201.42 L141.30,201.32 L142.27,201.22 L143.23,201.12 L144.20,201.03 L145.17,200.93 L146.13,200.83 L147.10,200.73 L148.07,200.64 L149.03,200.54 L150.00,200.44 L150.97,200.35 L151.93,200.25 L152.90,200.16 L153.87,200.06 L154.83,199.97 L155.80,199.88 L156.77,199.78 L157.73,199.69 L158.70,199.60 L159.67,199.50 L160.63,199.41 L161.60,199.32 L162.57,199.23 L163.53,199.14 L164.50,199.05 L165.47,198.96 L166.43,198.87 L167.40,198.78 L168.37,198.69 L169.33,198.60 L170.30,198.51 L171.27,198.42 L172.23,198.33 L173.20,198.25 L174.17,198.16 L175.13,198.07 L176.10,197.99 L177.07,197.90 L178.03,197.81 L179.00,197.73 L179.97,197.64 L180.93,197.56 L181.90,197.47 L182.87,197.39 L183.83,197.31 L184.80,197.22 L185.77,197.14 L186.73,197.06 L187.70,196.97 L188.67,196.89 L189.63,196.81 L190.60,196.73 L191.57,196.65 L192.53,196.57 L193.50,196.49 L194.47,196.41 L195.43,196.33 L196.40,196.25 L197.37,196.17 L198.33,196.09 L199.30,196.01 L200.27,195.93 L201.23,195.85 L202.20,195.78 L203.17,195.70 L204.13,195.62 L205.10,195.55 L206.07,195.47 L207.03,195.39 L208.00,195.32 L208.97,195.24 L209.93,195.17 L210.90,195.09 L211.87,195.02 L212.83,194.94 L213.80,194.87 L214.77,194.79 L215.73,194.72 L216.70,194.65 L217.67,194.57 L218.63,194.50 L219.60,194.43 L220.57,194.36 L221.53,194.29 L222.50,194.21 L223.47,194.14 L224.43,194.07 L225.40,194.00 L226.37,193.93 L227.33,193.86 L228.30,193.79 L229.27,193.72 L230.23,193.65 L231.20,193.58 L232.17,193.51 L233.13,193.44 L234.10,193.37 L235.07,193.30 L236.03,193.24 L237.00,193.17 L237.97,193.10 L238.93,193.03 L239.90,192.97 L240.87,192.90 L241.83,192.83 L242.80,192.77 L243.77,192.70 L244.73,192.63 L245.70,192.57 L246.67,192.50 L247.63,192.44 L248.60,192.37 L249.57,192.31 L250.53,192.24 L251.50,192.18 L252.47,192.11 L253.43,192.05 L254.40,191.99 L255.37,191.92 L256.33,191.86 L257.30,191.80 L258.27,191.73 L259.23,191.67 L260.20,191.61 L261.17,191.55 L262.13,191.48 L263.10,191.42 L264.07,191.36 L265.03,191.30 L266.00,191.24 L266.97,191.18 L267.93,191.12 L268.90,191.06 L269.87,191.00 L270.83,190.94 L271.80,190.88 L272.77,190.82 L273.73,190.76 L274.70,190.70 L275.67,190.64 L276.63,190.58 L277.60,190.52 L278.57,190.46 L279.53,190.40 L280.50,190.34 L281.47,190.29 L282.43,190.23 L283.40,190.17 L284.37,190.11 L285.33,190.05 L286.30,190.00 L287.27,189.94 L288.23,189.88 L289.20,189.83 L290.17,189.77 L291.13,189.71 L292.10,189.66 L293.07,189.60 L294.03,189.55 L295.00,189.49 L295.97,189.43 L296.93,189.38 L297.90,189.32 L298.87,189.27 L299.83,189.21 L300.80,189.16 L301.77,189.10 L302.73,189.05 L303.70,189.00 L304.67,188.94 L305.63,188.89 L306.60,188.83 L307.57,188.78 L308.53,188.73 L309.50,188.67 L310.47,188.62 L311.43,188.57 L312.40,188.52 L313.37,188.46 L314.33,188.41 L315.30,188.36 L316.27,188.31 L317.23,188.25 L318.20,188.20 L319.17,188.15 L320.13,188.10 L321.10,188.05 L322.07,188.00 L323.03,187.94 L324.00,187.89 L324.97,187.84 L325.93,187.79 L326.90,187.74 L327.87,187.69 L328.83,187.64 L329.80,187.59 L330.77,187.54 L331.73,187.49 L332.70,187.44 L333.67,187.39 L334.63,187.34 L335.60,187.29 L336.57,187.24 L337.53,187.19 L338.50,187.14" fill="none" stroke="#2a2aff" stroke-width="1.05"/>
<path d="M48.50,208.50 L49.47,208.49 L50.43,208.47 L51.40,208.46 L52.37,208.44 L53.33,208.43 L54.30,208.42 L55.27,208.40 L56.23,208.39 L57.20,208.37 L58.17,208.36 L59.13,208.35 L60.10,208.33 L61.07,208.32 L62.03,208.30 L63.00,208.29 L63.97,208.28 L64.93,208.26 L65.90,208.25 L66.87,208.23 L67.83,208.22 L68.80,208.20 L69.77,208.19 L70.73,208.17 L71.70,208.15 L72.67,208.13 L73.63,208.12 L74.60,208.10 L75.57,208.07 L76.53,208.05 L77.50,208.03 L78.47,208.01 L79.43,207.98 L80.40,207.95 L81.37,207.92 L82.33,207.89 L83.30,207.86 L84.27,207.83 L85.23,207.80 L86.20,207.76 L87.17,207.72 L88.13,207.68 L89.10,207.64 L90.07,207.60 L91.03,207.56 L92.00,207.52 L92.97,207.47 L93.93,207.43 L94.90,207.38 L95.87,207.33 L96.83,207.28 L97.80,207.23 L98.77,207.17 L99.73,207.12 L100.70,207.07 L101.67,207.01 L102.63,206.96 L103.60,206.90 L104.57,206.84 L105.53,206.78 L106.50,206.72 L107.47,206.66 L108.43,206.60 L109.40,206.54 L110.37,206.47 L111.33,206.41 L112.30,206.35 L113.27,206.28 L114.23,206.22 L115.20,206.15 L116.17,206.09 L117.13,206.02 L118.10,205.95 L119.07,205.88 L120.03,205.82 L121.00,205.75 L121.97,205.68 L122.93,205.61 L123.90,205.54 L124.87,205.47 L125.83,205.40 L126.80,205.33 L127.77,205.26 L128.73,205.19 L129.70,205.12 L130.67,205.05 L131.63,204.98 L132.60,204.91 L133.57,204.84 L134.53,204.76 L135.50,204.69 L136.47,204.62 L137.43,204.55 L138.40,204.48 L139.37,204.41 L140.33,204.33 L141.30,204.26 L142.27,204.19 L143.23,204.12 L144.20,204.05 L145.17,203.97 L146.13,203.90 L147.10,203.83 L148.07,203.76 L149.03,203.68 L150.00,203.61 L150.97,203.54 L151.93,203.47 L152.90,203.40 L153.87,203.32 L154.83,203.25 L155.80,203.18 L156.77,203.11 L157.73,203.04 L158.70,202.97 L159.67,202.89 L160.63,202.82 L161.60,202.75 L162.57,202.68 L163.53,202.61 L164.50,202.54 L165.47,202.47 L166.43,202.40 L167.40,202.33 L168.37,202.26 L169.33,202.19 L170.30,202.12 L171.27,202.05 L172.23,201.98 L173.20,201.91 L174.17,201.84 L175.13,201.77 L176.10,201.70 L177.07,201.63 L178.03,201.56 L179.00,201.49 L179.97,201.42 L180.93,201.35 L181.90,201.28 L182.87,201.22 L183.83,201.15 L184.80,201.08 L185.77,201.01 L186.73,200.94 L187.70,200.88 L188.67,200.81 L189.63,200.74 L190.60,200.68 L191.57,200.61 L192.53,200.54 L193.50,200.48 L194.47,200.41 L195.43,200.34 L196.40,200.28 L197.37,200.21 L198.33,200.15 L199.30,200.08 L200.27,200.01 L201.23,199.95 L202.20,199.88 L203.17,199.82 L204.13,199.75 L205.10,199.69 L206.07,199.63 L207.03,199.56 L208.00,199.50 L208.97,199.43 L209.93,199.37 L210.90,199.31 L211.87,199.24 L212.83,199.18 L213.80,199.12 L214.77,199.05 L215.73,198.99 L216.70,198.93 L217.67,198.87 L218.63,198.80 L219.60,198.74 L220.57,198.68 L221.53,198.62 L222.50,198.56 L223.47,198.50 L224.43,198.44 L225.40,198.37 L226.37,198.31 L227.33,198.25 L228.30,198.19 L229.27,198.13 L230.23,198.07 L231.20,198.01 L232.17,197.95 L233.13,197.89 L234.10,197.83 L235.07,197.77 L236.03,197.71 L237.00,197.66 L237.97,197.60 L238.93,197.54 L239.90,197.48 L240.87,197.42 L241.83,197.36 L242.80,197.31 L243.77,197.25 L244.73,197.19 L245.70,197.13 L246.67,197.08 L247.63,197.02 L248.60,196.96 L249.57,196.90 L250.53,196.85 L251.50,196.79 L252.47,196.73 L253.43,196.68 L254.40,196.62 L255.37,196.57 L256.33,196.51 L257.30,196.45 L258.27,196.40 L259.23,196.34 L260.20,196.29 L261.17,196.23 L262.13,196.18 L263.10,196.12 L264.07,196.07 L265.03,196.01 L266.00,195.96 L266.97,195.91 L267.93,195.85 L268.90,195.80 L269.87,195.74 L270.83,195.69 L271.80,195.64 L272.77,195.58 L273.73,195.53 L274.70,195.48 L275.67,195.42 L276.63,195.37 L277.60,195.32 L278.57,195.27 L279.53,195.21 L280.50,195.16 L281.47,195.11 L282.43,195.06 L283.40,195.01 L284.37,194.95 L285.33,194.90 L286.30,194.85 L287.27,194.80 L288.23,194.75 L289.20,194.70 L290.17,194.65 L291.13,194.60 L292.10,194.55 L293.07,194.50 L294.03,194.45 L295.00,194.40 L295.97,194.35 L296.93,194.30 L297.90,194.25 L298.87,194.20 L299.83,194.15 L300.80,194.10 L301.77,194.05 L302.73,194.00 L303.70,193.95 L304.67,193.90 L305.63,193.85 L306.60,193.80 L307.57,193.75 L308.53,193.71 L309.50,193.66 L310.47,193.61 L311.43,193.56 L312.40,193.51 L313.37,193.47 L314.33,193.42 L315.30,193.37 L316.27,193.32 L317.23,193.28 L318.20,193.23 L319.17,193.18 L320.13,193.13 L321.10,193.09 L322.07,193.04 L323.03,192.99 L324.00,192.95 L324.97,192.90 L325.93,192.85 L326.90,192.81 L327.87,192.76 L328.83,192.72 L329.80,192.67 L330.77,192.62 L331.73,192.58 L332.70,192.53 L333.67,192.49 L334.63,192.44 L335.60,192.40 L336.57,192.35 L337.53,192.31 L338.50,192.26" fill="none" stroke="#2a2aff" stroke-width="1.05"/>
<path d="M48.50,208.50 L49.47,208.49 L50.43,208.47 L51.40,208.46 L52.37,208.44 L53.33,208.43 L54.30,208.42 L55.27,208.40 L56.23,208.39 L57.20,208.37 L58.17,208.36 L59.13,208.35 L60.10,208.33 L61.07,208.32 L62.03,208.30 L63.00,208.29 L63.97,208.28 L64.93,208.26 L65.90,208.25 L66.87,208.23 L67.83,208.22 L68.80,208.21 L69.77,208.19 L70.73,208.18 L71.70,208.16 L72.67,208.15 L73.63,208.13 L74.60,208.12 L75.57,208.11 L76.53,208.09 L77.50,208.07 L78.47,208.06 L79.43,208.04 L80.40,208.03 L81.37,208.01 L82.33,207.99 L83.30,207.97 L84.27,207.95 L85.23,207.93 L86.20,207.91 L87.17,207.89 L88.13,207.87 L89.10,207.85 L90.07,207.83 L91.03,207.80 L92.00,207.78 L92.97,207.75 L93.93,207.73 L94.90,207.70 L95.87,207.67 L96.83,207.64 L97.80,207.62 L98.77,207.59 L99.73,207.55 L100.70,207.52 L101.67,207.49 L102.63,207.46 L103.60,207.42 L104.57,207.39 L105.53,207.35 L106.50,207.32 L107.47,207.28 L108.43,207.24 L109.40,207.21 L110.37,207.17 L111.33,207.13 L112.30,207.09 L113.27,207.05 L114.23,207.01 L115.20,206.96 L116.17,206.92 L117.13,206.88 L118.10,206.83 L119.07,206.79 L120.03,206.75 L121.00,206.70 L121.97,206.65 L122.93,206.61 L123.90,206.56 L124.87,206.52 L125.83,206.47 L126.80,206.42 L127.77,206.37 L128.73,206.32 L129.70,206.27 L130.67,206.22 L131.63,206.18 L132.60,206.12 L133.57,206.07 L134.53,206.02 L135.50,205.97 L136.47,205.92 L137.43,205.87 L138.40,205.82 L139.37,205.77 L140.33,205.71 L141.30,205.66 L142.27,205.61 L143.23,205.56 L144.20,205.50 L145.17,205.45 L146.13,205.40 L147.10,205.34 L148.07,205.29 L149.03,205.23 L150.00,205.18 L150.97,205.13 L151.93,205.07 L152.90,205.02 L153.87,204.96 L154.83,204.91 L155.80,204.85 L156.77,204.80 L157.73,204.74 L158.70,204.69 L159.67,204.63 L160.63,204.58 L161.60,204.52 L162.57,204.47 L163.53,204.41 L164.50,204.36 L165.47,204.30 L166.43,204.24 L167.40,204.19 L168.37,204.13 L169.33,204.08 L170.30,204.02 L171.27,203.97 L172.23,203.91 L173.20,203.85 L174.17,203.80 L175.13,203.74 L176.10,203.69 L177.07,203.63 L178.03,203.58 L179.00,203.52 L179.97,203.46 L180.93,203.41 L181.90,203.35 L182.87,203.30 L183.83,203.24 L184.80,203.19 L185.77,203.13 L186.73,203.08 L187.70,203.02 L188.67,202.96 L189.63,202.91 L190.60,202.85 L191.57,202.80 L192.53,202.74 L193.50,202.69 L194.47,202.63 L195.43,202.58 L196.40,202.52 L197.37,202.47 L198.33,202.41 L199.30,202.36 L200.27,202.30 L201.23,202.25 L202.20,202.20 L203.17,202.14 L204.13,202.09 L205.10,202.03 L206.07,201.98 L207.03,201.92 L208.00,201.87 L208.97,201.82 L209.93,201.76 L210.90,201.71 L211.87,201.65 L212.83,201.60 L213.80,201.55 L214.77,201.49 L215.73,201.44 L216.70,201.39 L217.67,201.33 L218.63,201.28 L219.60,201.23 L220.57,201.17 L221.53,201.12 L222.50,201.07 L223.47,201.02 L224.43,200.96 L225.40,200.91 L226.37,200.86 L227.33,200.81 L228.30,200.75 L229.27,200.70 L230.23,200.65 L231.20,200.60 L232.17,200.55 L233.13,200.49 L234.10,200.44 L235.07,200.39 L236.03,200.34 L237.00,200.29 L237.97,200.24 L238.93,200.19 L239.90,200.14 L240.87,200.08 L241.83,200.03 L242.80,199.98 L243.77,199.93 L244.73,199.88 L245.70,199.83 L246.67,199.78 L247.63,199.73 L248.60,199.68 L249.57,199.63 L250.53,199.58 L251.50,199.53 L252.47,199.48 L253.43,199.43 L254.40,199.38 L255.37,199.33 L256.33,199.28 L257.30,199.23 L258.27,199.18 L259.23,199.14 L260.20,199.09 L261.17,199.04 L262.13,198.99 L263.10,198.94 L264.07,198.89 L265.03,198.84 L266.00,198.80 L266.97,198.75 L267.93,198.70 L268.90,198.65 L269.87,198.60 L270.83,198.56 L271.80,198.51 L272.77,198.46 L273.73,198.41 L274.70,198.37 L275.67,198.32 L276.63,198.27 L277.60,198.22 L278.57,198.18 L279.53,198.13 L280.50,198.08 L281.47,198.04 L282.43,197.99 L283.40,197.94 L284.37,197.90 L285.33,197.85 L286.30,197.80 L287.27,197.76 L288.23,197.71 L289.20,197.67 L290.17,197.62 L291.13,197.57 L292.10,197.53 L293.07,197.48 L294.03,197.44 L295.00,197.39 L295.97,197.35 L296.93,197.30 L297.90,197.26 L298.87,197.21 L299.83,197.17 L300.80,197.12 L301.77,197.08 L302.73,197.03 L303.70,196.99 L304.67,196.94 L305.63,196.90 L306.60,196.86 L307.57,196.81 L308.53,196.77 L309.50,196.72 L310.47,196.68 L311.43,196.64 L312.40,196.59 L313.37,196.55 L314.33,196.51 L315.30,196.46 L316.27,196.42 L317.23,196.38 L318.20,196.33 L319.17,196.29 L320.13,196.25 L321.10,196.20 L322.07,196.16 L323.03,196.12 L324.00,196.08 L324.97,196.03 L325.93,195.99 L326.90,195.95 L327.87,195.91 L328.83,195.86 L329.80,195.82 L330.77,195.78 L331.73,195.74 L332.70,195.70 L333.67,195.65 L334.63,195.61 L335.60,195.57 L336.57,195.53 L337.53,195.49 L338.50,195.45" fill="none" stroke="#2a2aff" stroke-width="1.05"/>
<path d="M48.50,208.50 L49.47,208.49 L50.43,208.47 L51.40,208.46 L52.37,208.44 L53.33,208.43 L54.30,208.42 L55.27,208.40 L56.23,208.39 L57.20,208.37 L58.17,208.36 L59.13,208.35 L60.10,208.33 L61.07,208.32 L62.03,208.30 L63.00,208.29 L63.97,208.28 L64.93,208.26 L65.90,208.25 L66.87,208.23 L67.83,208.22 L68.80,208.21 L69.77,208.19 L70.73,208.18 L71.70,208.16 L72.67,208.15 L73.63,208.14 L74.60,208.12 L75.57,208.11 L76.53,208.09 L77.50,208.08 L78.47,208.07 L79.43,208.05 L80.40,208.04 L81.37,208.02 L82.33,208.01 L83.30,207.99 L84.27,207.98 L85.23,207.96 L86.20,207.95 L87.17,207.93 L88.13,207.92 L89.10,207.90 L90.07,207.88 L91.03,207.87 L92.00,207.85 L92.97,207.83 L93.93,207.81 L94.90,207.80 L95.87,207.78 L96.83,207.76 L97.80,207.74 L98.77,207.72 L99.73,207.70 L100.70,207.68 L101.67,207.65 L102.63,207.63 L103.60,207.61 L104.57,207.59 L105.53,207.56 L106.50,207.54 L107.47,207.51 L108.43,207.49 L109.40,207.46 L110.37,207.44 L111.33,207.41 L112.30,207.38 L113.27,207.36 L114.23,207.33 L115.20,207.30 L116.17,207.27 L117.13,207.24 L118.10,207.21 L119.07,207.18 L120.03,207.15 L121.00,207.12 L121.97,207.09 L122.93,207.06 L123.90,207.03 L124.87,206.99 L125.83,206.96 L126.80,206.93 L127.77,206.89 L128.73,206.86 L129.70,206.82 L130.67,206.79 L131.63,206.75 L132.60,206.71 L133.57,206.68 L134.53,206.64 L135.50,206.60 L136.47,206.57 L137.43,206.53 L138.40,206.49 L139.37,206.45 L140.33,206.42 L141.30,206.38 L142.27,206.34 L143.23,206.30 L144.20,206.26 L145.17,206.22 L146.13,206.18 L147.10,206.14 L148.07,206.10 L149.03,206.06 L150.00,206.01 L150.97,205.97 L151.93,205.93 L152.90,205.89 L153.87,205.85 L154.83,205.81 L155.80,205.76 L156.77,205.72 L157.73,205.68 L158.70,205.64 L159.67,205.59 L160.63,205.55 L161.60,205.51 L162.57,205.46 L163.53,205.42 L164.50,205.38 L165.47,205.33 L166.43,205.29 L167.40,205.24 L168.37,205.20 L169.33,205.16 L170.30,205.11 L171.27,205.07 L172.23,205.02 L173.20,204.98 L174.17,204.93 L175.13,204.89 L176.10,204.84 L177.07,204.80 L178.03,204.75 L179.00,204.71 L179.97,204.66 L180.93,204.62 L181.90,204.57 L182.87,204.53 L183.83,204.48 L184.80,204.43 L185.77,204.39 L186.73,204.34 L187.70,204.30 L188.67,204.25 L189.63,204.21 L190.60,204.16 L191.57,204.12 L192.53,204.07 L193.50,204.02 L194.47,203.98 L195.43,203.93 L196.40,203.89 L197.37,203.84 L198.33,203.79 L199.30,203.75 L200.27,203.70 L201.23,203.66 L202.20,203.61 L203.17,203.57 L204.13,203.52 L205.10,203.47 L206.07,203.43 L207.03,203.38 L208.00,203.34 L208.97,203.29 L209.93,203.24 L210.90,203.20 L211.87,203.15 L212.83,203.11 L213.80,203.06 L214.77,203.02 L215.73,202.97 L216.70,202.93 L217.67,202.88 L218.63,202.83 L219.60,202.79 L220.57,202.74 L221.53,202.70 L222.50,202.65 L223.47,202.61 L224.43,202.56 L225.40,202.52 L226.37,202.47 L227.33,202.43 L228.30,202.38 L229.27,202.34 L230.23,202.29 L231.20,202.24 L232.17,202.20 L233.13,202.15 L234.10,202.11 L235.07,202.07 L236.03,202.02 L237.00,201.98 L237.97,201.93 L238.93,201.89 L239.90,201.84 L240.87,201.80 L241.83,201.75 L242.80,201.71 L243.77,201.66 L244.73,201.62 L245.70,201.57 L246.67,201.53 L247.63,201.49 L248.60,201.44 L249.57,201.40 L250.53,201.35 L251.50,201.31 L252.47,201.27 L253.43,201.22 L254.40,201.18 L255.37,201.13 L256.33,201.09 L257.30,201.05 L258.27,201.00 L259.23,200.96 L260.20,200.92 L261.17,200.87 L262.13,200.83 L263.10,200.79 L264.07,200.74 L265.03,200.70 L266.00,200.66 L266.97,200.61 L267.93,200.57 L268.90,200.53 L269.87,200.49 L270.83,200.44 L271.80,200.40 L272.77,200.36 L273.73,200.32 L274.70,200.27 L275.67,200.23 L276.63,200.19 L277.60,200.15 L278.57,200.10 L279.53,200.06 L280.50,200.02 L281.47,199.98 L282.43,199.94 L283.40,199.89 L284.37,199.85 L285.33,199.81 L286.30,199.77 L287.27,199.73 L288.23,199.69 L289.20,199.64 L290.17,199.60 L291.13,199.56 L292.10,199.52 L293.07,199.48 L294.03,199.44 L295.00,199.40 L295.97,199.36 L296.93,199.31 L297.90,199.27 L298.87,199.23 L299.83,199.19 L300.80,199.15 L301.77,199.11 L302.73,199.07 L303.70,199.03 L304.67,198.99 L305.63,198.95 L306.60,198.91 L307.57,198.87 L308.53,198.83 L309.50,198.79 L310.47,198.75 L311.43,198.71 L312.40,198.67 L313.37,198.63 L314.33,198.59 L315.30,198.55 L316.27,198.51 L317.23,198.47 L318.20,198.43 L319.17,198.39 L320.13,198.35 L321.10,198.31 L322.07,198.28 L323.03,198.24 L324.00,198.20 L324.97,198.16 L325.93,198.12 L326.90,198.08 L327.87,198.04 L328.83,198.00 L329.80,197.96 L330.77,197.93 L331.73,197.89 L332.70,197.85 L333.67,197.81 L334.63,197.77 L335.60,197.73 L336.57,197.70 L337.53,197.66 L338.50,197.62" fill="none" stroke="#2a2aff" stroke-width="1.05"/>
<path d="M48.50,208.50 L49.47,208.49 L50.43,208.47 L51.40,208.46 L52.37,208.44 L53.33,208.43 L54.30,208.42 L55.27,208.40 L56.23,208.39 L57.20,208.37 L58.17,208.36 L59.13,208.35 L60.10,208.33 L61.07,208.32 L62.03,208.30 L63.00,208.29 L63.97,208.28 L64.93,208.26 L65.90,208.25 L66.87,208.23 L67.83,208.22 L68.80,208.21 L69.77,208.19 L70.73,208.18 L71.70,208.16 L72.67,208.15 L73.63,208.14 L74.60,208.12 L75.57,208.11 L76.53,208.10 L77.50,208.08 L78.47,208.07 L79.43,208.05 L80.40,208.04 L81.37,208.03 L82.33,208.01 L83.30,208.00 L84.27,207.98 L85.23,207.97 L86.20,207.96 L87.17,207.94 L88.13,207.93 L89.10,207.91 L90.07,207.90 L91.03,207.88 L92.00,207.87 L92.97,207.85 L93.93,207.84 L94.90,207.82 L95.87,207.81 L96.83,207.79 L97.80,207.78 L98.77,207.76 L99.73,207.74 L100.70,207.73 L101.67,207.71 L102.63,207.69 L103.60,207.68 L104.57,207.66 L105.53,207.64 L106.50,207.62 L107.47,207.60 L108.43,207.59 L109.40,207.57 L110.37,207.55 L111.33,207.53 L112.30,207.51 L113.27,207.49 L114.23,207.47 L115.20,207.44 L116.17,207.42 L117.13,207.40 L118.10,207.38 L119.07,207.36 L120.03,207.33 L121.00,207.31 L121.97,207.29 L122.93,207.26 L123.90,207.24 L124.87,207.22 L125.83,207.19 L126.80,207.17 L127.77,207.14 L128.73,207.12 L129.70,207.09 L130.67,207.06 L131.63,207.04 L132.60,207.01 L133.57,206.98 L134.53,206.95 L135.50,206.93 L136.47,206.90 L137.43,206.87 L138.40,206.84 L139.37,206.81 L140.33,206.78 L141.30,206.75 L142.27,206.72 L143.23,206.69 L144.20,206.66 L145.17,206.63 L146.13,206.60 L147.10,206.57 L148.07,206.54 L149.03,206.51 L150.00,206.48 L150.97,206.44 L151.93,206.41 L152.90,206.38 L153.87,206.35 L154.83,206.31 L155.80,206.28 L156.77,206.25 L157.73,206.21 L158.70,206.18 L159.67,206.14 L160.63,206.11 L161.60,206.08 L162.57,206.04 L163.53,206.01 L164.50,205.97 L165.47,205.94 L166.43,205.90 L167.40,205.87 L168.37,205.83 L169.33,205.80 L170.30,205.76 L171.27,205.72 L172.23,205.69 L173.20,205.65 L174.17,205.61 L175.13,205.58 L176.10,205.54 L177.07,205.51 L178.03,205.47 L179.00,205.43 L179.97,205.39 L180.93,205.36 L181.90,205.32 L182.87,205.28 L183.83,205.25 L184.80,205.21 L185.77,205.17 L186.73,205.13 L187.70,205.09 L188.67,205.06 L189.63,205.02 L190.60,204.98 L191.57,204.94 L192.53,204.90 L193.50,204.87 L194.47,204.83 L195.43,204.79 L196.40,204.75 L197.37,204.71 L198.33,204.67 L199.30,204.64 L200.27,204.60 L201.23,204.56 L202.20,204.52 L203.17,204.48 L204.13,204.44 L205.10,204.40 L206.07,204.36 L207.03,204.32 L208.00,204.29 L208.97,204.25 L209.93,204.21 L210.90,204.17 L211.87,204.13 L212.83,204.09 L213.80,204.05 L214.77,204.01 L215.73,203.97 L216.70,203.93 L217.67,203.89 L218.63,203.86 L219.60,203.82 L220.57,203.78 L221.53,203.74 L222.50,203.70 L223.47,203.66 L224.43,203.62 L225.40,203.58 L226.37,203.54 L227.33,203.50 L228.30,203.46 L229.27,203.42 L230.23,203.38 L231.20,203.35 L232.17,203.31 L233.13,203.27 L234.10,203.23 L235.07,203.19 L236.03,203.15 L237.00,203.11 L237.97,203.07 L238.93,203.03 L239.90,202.99 L240.87,202.95 L241.83,202.91 L242.80,202.88 L243.77,202.84 L244.73,202.80 L245.70,202.76 L246.67,202.72 L247.63,202.68 L248.60,202.64 L249.57,202.60 L250.53,202.56 L251.50,202.52 L252.47,202.49 L253.43,202.45 L254.40,202.41 L255.37,202.37 L256.33,202.33 L257.30,202.29 L258.27,202.25 L259.23,202.21 L260.20,202.18 L261.17,202.14 L262.13,202.10 L263.10,202.06 L264.07,202.02 L265.03,201.98 L266.00,201.94 L266.97,201.91 L267.93,201.87 L268.90,201.83 L269.87,201.79 L270.83,201.75 L271.80,201.71 L272.77,201.68 L273.73,201.64 L274.70,201.60 L275.67,201.56 L276.63,201.52 L277.60,201.49 L278.57,201.45 L279.53,201.41 L280.50,201.37 L281.47,201.33 L282.43,201.30 L283.40,201.26 L284.37,201.22 L285.33,201.18 L286.30,201.15 L287.27,201.11 L288.23,201.07 L289.20,201.03 L290.17,200.99 L291.13,200.96 L292.10,200.92 L293.07,200.88 L294.03,200.85 L295.00,200.81 L295.97,200.77 L296.93,200.73 L297.90,200.70 L298.87,200.66 L299.83,200.62 L300.80,200.59 L301.77,200.55 L302.73,200.51 L303.70,200.48 L304.67,200.44 L305.63,200.40 L306.60,200.37 L307.57,200.33 L308.53,200.29 L309.50,200.26 L310.47,200.22 L311.43,200.18 L312.40,200.15 L313.37,200.11 L314.33,200.07 L315.30,200.04 L316.27,200.00 L317.23,199.96 L318.20,199.93 L319.17,199.89 L320.13,199.86 L321.10,199.82 L322.07,199.78 L323.03,199.75 L324.00,199.71 L324.97,199.68 L325.93,199.64 L326.90,199.61 L327.87,199.57 L328.83,199.53 L329.80,199.50 L330.77,199.46 L331.73,199.43 L332.70,199.39 L333.67,199.36 L334.63,199.32 L335.60,199.29 L336.57,199.25 L337.53,199.22 L338.50,199.18" fill="none" stroke="#2a2aff" stroke-width="1.05"/>
<rect x="48.5" y="6.5" width="290.0" height="150.3" fill="none" stroke="#2a2a2a" stroke-width="1.3" stroke-linejoin="round"/>
<rect x="48.5" y="180.12181782395763" width="290.0" height="150.17818217604238" fill="none" stroke="#2a2a2a" stroke-width="1.3" stroke-linejoin="round"/>
<path d="M96.83,156.8 V150.80 M145.17,156.8 V150.80 M193.50,156.8 V150.80 M241.83,156.8 V150.80 M290.17,156.8 V150.80 M96.83,330.3 V324.30 M145.17,330.3 V324.30 M193.50,330.3 V324.30 M241.83,330.3 V324.30 M290.17,330.3 V324.30 M48.5,126.74 H54.50 M48.5,96.68 H54.50 M48.5,66.62 H54.50 M48.5,36.56 H54.50" stroke="#2a2a2a" stroke-width="1.1" fill="none"/>
<path d="M48.5,323.15 H54.50 M48.5,318.08 H54.50 M48.5,314.14 H54.50 M48.5,310.93 H54.50 M48.5,308.21 H54.50 M48.5,305.86 H54.50 M48.5,303.78 H54.50 M48.5,301.92 H54.50 M48.5,300.24 H54.50 M48.5,298.71 H54.50 M48.5,297.30 H54.50 M48.5,295.99 H54.50 M48.5,294.77 H54.50 M48.5,293.63 H54.50 M48.5,292.57 H54.50 M48.5,291.56 H54.50 M48.5,290.60 H54.50 M48.5,282.55 H54.50 M48.5,277.48 H54.50 M48.5,273.54 H54.50 M48.5,270.33 H54.50 M48.5,267.61 H54.50 M48.5,265.26 H54.50 M48.5,263.18 H54.50 M48.5,261.32 H54.50 M48.5,259.64 H54.50 M48.5,258.11 H54.50 M48.5,256.70 H54.50 M48.5,255.39 H54.50 M48.5,254.17 H54.50 M48.5,253.03 H54.50 M48.5,251.97 H54.50 M48.5,250.96 H54.50 M48.5,250.00 H54.50 M48.5,241.95 H54.50 M48.5,236.88 H54.50 M48.5,232.94 H54.50 M48.5,229.73 H54.50 M48.5,227.01 H54.50 M48.5,224.66 H54.50 M48.5,222.58 H54.50 M48.5,220.72 H54.50 M48.5,219.04 H54.50 M48.5,217.51 H54.50 M48.5,216.10 H54.50 M48.5,214.79 H54.50 M48.5,213.57 H54.50 M48.5,212.43 H54.50 M48.5,211.37 H54.50 M48.5,210.36 H54.50 M48.5,209.40 H54.50 M48.5,201.35 H54.50 M48.5,196.28 H54.50 M48.5,192.34 H54.50 M48.5,189.13 H54.50 M48.5,186.41 H54.50 M48.5,184.06 H54.50 M48.5,181.98 H54.50 M48.5,289.70 H54.50 M48.5,249.10 H54.50 M48.5,208.50 H54.50" stroke="#2a2a2a" stroke-width="0.85" fill="none"/>
<line x1="139.3" y1="27.5" x2="139.3" y2="91.8" stroke="#a8a8a8" stroke-width="1.1"/><path d="M137.60000000000002,91.0 L141.0,91.0 L139.3,96.8 Z" fill="#111"/>
<line x1="164.6" y1="189.3" x2="164.6" y2="207.9" stroke="#555" stroke-width="1.1"/><path d="M162.9,207.1 L166.29999999999998,207.1 L164.6,212.9 Z" fill="#111"/>
<line x1="153.2" y1="209.8" x2="153.2" y2="251.39999999999998" stroke="#999" stroke-width="1.1"/><path d="M151.5,250.59999999999997 L154.89999999999998,250.59999999999997 L153.2,256.4 Z" fill="#111"/>
<g font-family="Liberation Serif, serif" fill="#000" stroke="#000" stroke-width="0.1">
<text transform="translate(48.50,172.00) scale(1,1.0)" font-size="16.0" text-anchor="middle" >0</text>
<text transform="translate(96.83,172.00) scale(1,1.0)" font-size="16.0" text-anchor="middle" >100</text>
<text transform="translate(145.17,172.00) scale(1,1.0)" font-size="16.0" text-anchor="middle" >200</text>
<text transform="translate(193.50,172.00) scale(1,1.0)" font-size="16.0" text-anchor="middle" >300</text>
<text transform="translate(241.83,172.00) scale(1,1.0)" font-size="16.0" text-anchor="middle" >400</text>
<text transform="translate(290.17,172.00) scale(1,1.0)" font-size="16.0" text-anchor="middle" >500</text>
<text transform="translate(338.50,172.00) scale(1,1.0)" font-size="16.0" text-anchor="middle" >600</text>
<text transform="translate(45.60,161.50) scale(1,1.0)" font-size="16.0" text-anchor="end" >0</text>
<text transform="translate(45.60,131.44) scale(1,1.0)" font-size="16.0" text-anchor="end" >0.5</text>
<text transform="translate(45.60,101.38) scale(1,1.0)" font-size="16.0" text-anchor="end" >1.0</text>
<text transform="translate(45.60,71.32) scale(1,1.0)" font-size="16.0" text-anchor="end" >1.5</text>
<text transform="translate(45.60,41.26) scale(1,1.0)" font-size="16.0" text-anchor="end" >2.0</text>
<text transform="translate(45.60,11.20) scale(1,1.0)" font-size="16.0" text-anchor="end" >2.5</text>
<text transform="translate(48.50,346.20) scale(1,1.0)" font-size="16.0" text-anchor="middle" >0</text>
<text transform="translate(96.83,346.20) scale(1,1.0)" font-size="16.0" text-anchor="middle" >100</text>
<text transform="translate(145.17,346.20) scale(1,1.0)" font-size="16.0" text-anchor="middle" >200</text>
<text transform="translate(193.50,346.20) scale(1,1.0)" font-size="16.0" text-anchor="middle" >300</text>
<text transform="translate(241.83,346.20) scale(1,1.0)" font-size="16.0" text-anchor="middle" >400</text>
<text transform="translate(290.17,346.20) scale(1,1.0)" font-size="16.0" text-anchor="middle" >500</text>
<text transform="translate(338.50,346.20) scale(1,1.0)" font-size="16.0" text-anchor="middle" >600</text>
<text transform="translate(23.30,213.10) scale(1,1.18)" font-size="13.6" text-anchor="start" >10<tspan dy="-6.0" font-size="10.4">0</tspan></text>
<text transform="translate(23.30,253.70) scale(1,1.18)" font-size="13.6" text-anchor="start" >10<tspan dy="-6.0" font-size="10.4">-1</tspan></text>
<text transform="translate(23.30,294.30) scale(1,1.18)" font-size="13.6" text-anchor="start" >10<tspan dy="-6.0" font-size="10.4">-2</tspan></text>
<text transform="translate(23.30,334.90) scale(1,1.18)" font-size="13.6" text-anchor="start" >10<tspan dy="-6.0" font-size="10.4">-3</tspan></text>
<text transform="translate(69.50,32.20) scale(1,1.05)" font-size="14.8" text-anchor="start" >(a)</text>
<text transform="translate(69.50,315.00) scale(1,1.05)" font-size="14.8" text-anchor="start" >(b)</text>
<text transform="translate(155.50,96.90) scale(1,1.08)" font-size="11.0" text-anchor="start" font-style="italic">h</text>
<text transform="translate(162.90,96.90) scale(1.35,1.08)" font-size="11.0" font-style="italic">ν</text>
<text transform="translate(169.00,98.70) scale(1,1.08)" font-size="8" text-anchor="start" >s</text>
<text transform="translate(172.60,96.90) scale(1,1.08)" font-size="11.0" text-anchor="start" >=</text>
<text transform="translate(181.10,96.90) scale(1,1.08)" font-size="11.0" text-anchor="start" >20 meV</text>
<text transform="translate(182.00,107.95) scale(1,1.08)" font-size="11.0" text-anchor="start" >30 meV</text>
<text transform="translate(182.00,119.00) scale(1,1.08)" font-size="11.0" text-anchor="start" >40 meV</text>
<text transform="translate(182.00,130.05) scale(1,1.08)" font-size="11.0" text-anchor="start" >50 meV</text>
<text transform="translate(182.00,141.10) scale(1,1.08)" font-size="11.0" text-anchor="start" >60 meV</text>
<text transform="translate(164.60,263.60) scale(1,1.08)" font-size="11.0" text-anchor="start" font-style="italic">h</text>
<text transform="translate(171.90,263.60) scale(1.35,1.08)" font-size="11.0" font-style="italic">ν</text>
<text transform="translate(177.60,265.40) scale(1,1.08)" font-size="8" text-anchor="start" >s</text>
<text transform="translate(182.20,263.60) scale(1,1.08)" font-size="11.0" text-anchor="start" >=</text>
<text transform="translate(189.90,263.60) scale(1,1.08)" font-size="11.0" text-anchor="start" >20 meV</text>
<text transform="translate(191.10,274.80) scale(1,1.08)" font-size="11.0" text-anchor="start" >30 meV</text>
<text transform="translate(191.10,286.00) scale(1,1.08)" font-size="11.0" text-anchor="start" >40 meV</text>
<text transform="translate(191.10,297.20) scale(1,1.08)" font-size="11.0" text-anchor="start" >50 meV</text>
<text transform="translate(191.10,308.40) scale(1,1.08)" font-size="11.0" text-anchor="start" >60 meV</text>
<text transform="translate(249.00,138.00) scale(1,1.08)" font-size="11.8" text-anchor="start" font-style="italic">α</text><text transform="translate(256.90,138.00) scale(1,1.08)" font-size="11.2" text-anchor="start" >=</text><text transform="translate(265.40,138.00) scale(1,1.08)" font-size="11" text-anchor="start" >0.0004 K<tspan dx="0.6" dy="-4.6" font-size="8">−1</tspan></text>
<text transform="translate(253.40,310.00) scale(1,1.08)" font-size="11.8" text-anchor="start" font-style="italic">α</text><text transform="translate(262.00,310.00) scale(1,1.08)" font-size="11.2" text-anchor="start" >=</text><text transform="translate(270.40,310.00) scale(1,1.08)" font-size="11" text-anchor="start" >0.0004 K<tspan dx="0.6" dy="-4.6" font-size="8">−1</tspan></text>
<text transform="translate(62.75,198.60) scale(1,1.02)" font-size="12.8" text-anchor="start" font-style="italic">I</text>
<text transform="translate(67.00,201.00) scale(1,1.05)" font-size="9.4" text-anchor="start" >S</text>
<text transform="translate(67.10,245.30) scale(1,1.02)" font-size="12.8" text-anchor="start" font-style="italic">I</text>
<text transform="translate(71.60,247.70) scale(1,1.05)" font-size="9.2" text-anchor="start" >a-S</text>
<text transform="translate(190.50,368.00) scale(1,1.06)" font-size="16.0" text-anchor="middle" >Temperature (K)</text>
</g>
<text transform="translate(11.7,81.5) scale(1,1.04) rotate(-90)" font-size="16.0" text-anchor="middle" font-family="Liberation Serif, serif" fill="#000" stroke="#000" stroke-width="0.1"><tspan font-style="italic">I</tspan><tspan font-size="11" dy="3.2">PL</tspan><tspan dy="-3.2"> (normal.)</tspan></text>
<text transform="translate(11.7,255.0) scale(1,1.04) rotate(-90)" font-size="16.0" text-anchor="middle" font-family="Liberation Serif, serif" fill="#000" stroke="#000" stroke-width="0.1"><tspan font-style="italic">I</tspan><tspan font-size="11" dy="2.4">S</tspan><tspan dy="-2.4">, </tspan><tspan font-style="italic">I</tspan><tspan font-size="10" dy="2.4">a-S</tspan><tspan dy="-2.4"> (arb. units)</tspan></text>
</svg></body></html>
